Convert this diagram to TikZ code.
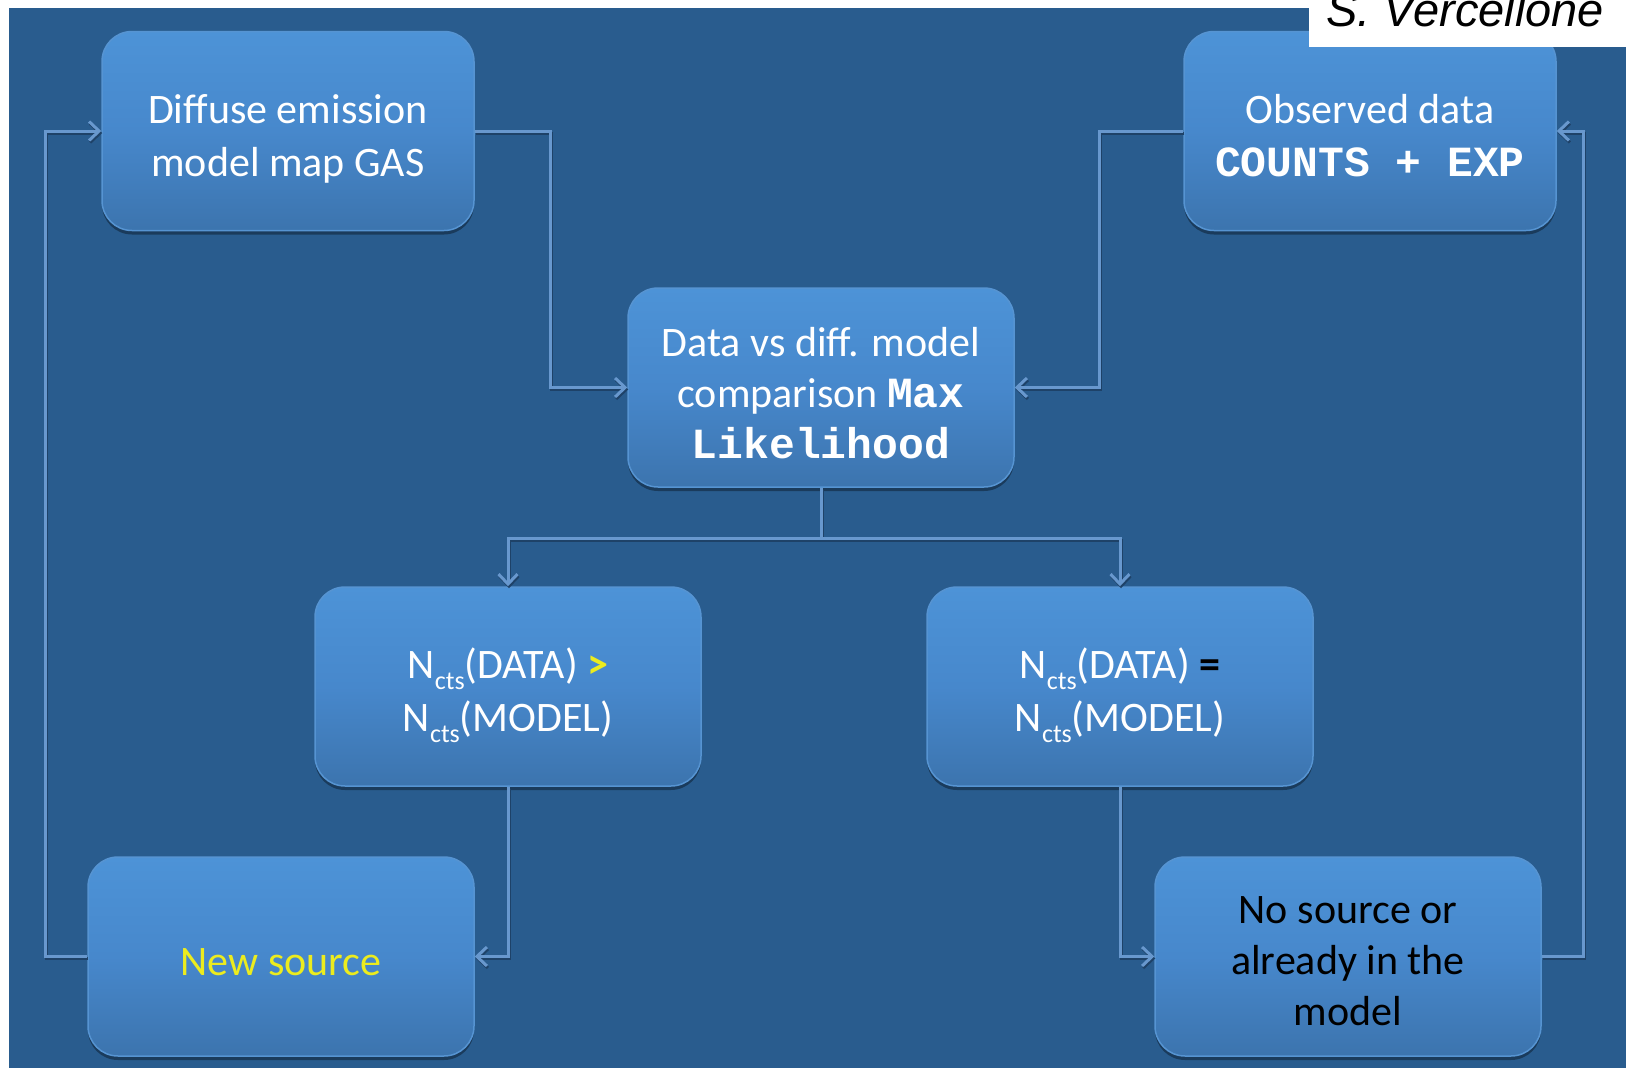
\documentclass[tikz,border=0pt]{standalone}
\usepackage{fontspec}
\setmainfont{Carlito}
\newfontfamily\codefont{Liberation Mono}
\newfontfamily\signfont{Liberation Sans}
\usetikzlibrary{arrows.meta,shadows}

\definecolor{bgblue}{RGB}{41,92,142}
\definecolor{boxtop}{RGB}{77,147,215}
\definecolor{boxmid}{RGB}{71,136,204}
\definecolor{boxbot}{RGB}{60,116,174}
\definecolor{boxedge}{RGB}{86,148,210}
\definecolor{linkblue}{RGB}{104,152,206}
\definecolor{linkshade}{RGB}{30,66,104}
\definecolor{hilite}{RGB}{236,236,30}

% struts that fix the text block: height above the first baseline,
% depth below the last one
\newcommand\topstrut{\rule{0pt}{60pt}}
\newcommand\botstrut[1]{\rule[-#1pt]{0pt}{#1pt}}
% subscript "cts"
\newcommand\ctssub{\raisebox{-11pt}{\fontsize{26}{26}\selectfont cts}}
\newcommand\code[1]{{\codefont\bfseries\fontsize{43}{51}\selectfont #1}}
\newcommand\fs[1]{\fontsize{42}{#1}\selectfont}

\begin{document}
\begin{tikzpicture}[x=1pt,y=-1pt,
  box/.style={rounded corners=30pt, draw=boxedge, line width=1.5pt,
    top color=boxtop, bottom color=boxbot, middle color=boxmid,
    minimum height=199pt, inner sep=0pt, align=center, text=white,
    drop shadow={shadow xshift=0pt, shadow yshift=-4pt, opacity=0.35, fill=black}},
  link/.style={draw=linkblue, line width=3pt,
    preaction={draw=linkshade, line width=3pt, transform canvas={yshift=-2pt,xshift=1pt}}},
  conn/.style={link, -{Straight Barb[length=10pt,width=19pt]}}
]
\useasboundingbox (0,0) rectangle (1626,1068);
\fill[white] (0,0) rectangle (1626,1068);
\fill[bgblue] (9,8) rectangle (1626,1068);

% boxes
\node[box, minimum width=372pt, font=\fs{53}] (diff) at (288,131)
  {\topstrut Diffuse emission\\model map GAS\botstrut{22}};
\node[box, minimum width=372pt, font=\fs{53}] (obs) at (1370,131)
  {\topstrut Observed data\\\code{COUNTS + EXP}\botstrut{22}};
\node[box, minimum width=386pt, font=\fs{51}] (cmp) at (821,387.5)
  {\topstrut Data vs diff. model\\comparison \code{Max}\\\code{Likelihood}\botstrut{20}};
\node[box, minimum width=386pt, font=\fs{53}] (ngt) at (508,686.5)
  {\topstrut N\ctssub(DATA) \textcolor{hilite}{\bfseries >}\\N\ctssub(MODEL)\botstrut{23}};
\node[box, minimum width=386pt, font=\fs{53}] (neq) at (1120,686.5)
  {\topstrut N\ctssub(DATA) \textcolor{black}{\bfseries =}\\N\ctssub(MODEL)\botstrut{23}};
\node[box, minimum width=386pt, font=\fs{51}] (new) at (281,956.5)
  {\topstrut\textcolor{hilite}{New source}\botstrut{22}};
\node[box, minimum width=386pt, font=\fs{51}, text=black] (nos) at (1348,956.5)
  {\topstrut No source or\\already in the\\model\botstrut{24}};

% connectors
\draw[conn] (diff.east) -- ++(76,0) |- (cmp.west);
\draw[conn] (obs.west) -- ++(-84,0) |- (cmp.east);
\draw[link] (cmp.south) -- ++(0,51) coordinate (split);
\draw[conn] (split) -| (ngt.north);
\draw[conn] (split) -| (neq.north);
\draw[conn] (ngt.south) |- (new.east);
\draw[conn] (neq.south) |- (nos.west);
\draw[conn] (new.west) -- ++(-42,0) |- (diff.west);
\draw[conn] (nos.east) -- ++(42,0) |- (obs.east);

% author tag
\fill[white] (1309,0) rectangle (1626,47);
\node[font=\signfont\itshape\fontsize{47}{47}\selectfont, anchor=base west,
  inner sep=0pt] (sig) at (1326,27) {S. Vercellone};
\end{tikzpicture}
\end{document}
